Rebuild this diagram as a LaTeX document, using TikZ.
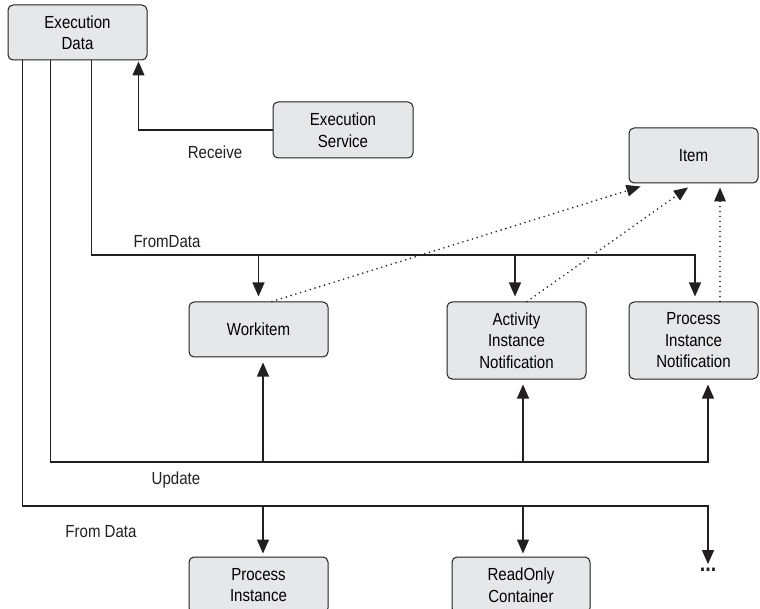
\documentclass[tikz,border=0pt]{standalone}
\usepackage{fontspec}
\setmainfont{Liberation Sans}[FakeStretch=0.86]
\usetikzlibrary{arrows.meta}
\definecolor{boxfill}{HTML}{E6E7E8}
\definecolor{ink}{HTML}{231F20}
\tikzset{
  box/.style={draw=ink, fill=boxfill, rounded corners=5pt, line width=1pt,
    align=center, inner sep=0pt, font=\fontsize{17.5}{21.5}\selectfont},
  lbl/.style={font=\fontsize{17.5}{21.5}\selectfont, text=ink, inner sep=0pt},
  conn/.style={draw=ink, line width=1.2pt},
  arr/.style={conn, -{Triangle[width=12pt,length=14pt]}},
  dotarr/.style={draw=ink, line width=1.8pt, line cap=round, dash pattern=on 0pt off 5pt, -{Triangle[width=12pt,length=14pt,line width=0pt]}},
}
\begin{document}
\begin{tikzpicture}[x=1pt,y=-1pt]
\useasboundingbox (0,0) rectangle (760,609);
\clip (0,0) rectangle (760,609);

% nodes
\node[box, minimum width=139pt, minimum height=55pt] (ED) at (77.5,32.5) {Execution\\Data};
\node[box, minimum width=140pt, minimum height=56pt] (ES) at (343,130) {Execution\\Service};
\node[box, minimum width=129pt, minimum height=55pt] (Item) at (693.5,155.5) {Item};
\node[box, minimum width=139pt, minimum height=55pt] (WI) at (258.5,329.5) {Workitem};
\node[box, minimum width=139pt, minimum height=77pt] (AIN) at (516.5,340.5) {Activity\\Instance\\Notification};
\node[box, minimum width=129pt, minimum height=77pt] (PIN) at (693.5,340.5) {Process\\Instance\\Notification};
\node[box, minimum width=139pt, minimum height=56pt] (PI) at (258.5,585) {Process\\Instance};
\node[box, minimum width=138pt, minimum height=56pt] (RC) at (521,585) {ReadOnly\\Container};
\node[lbl, font=\fontsize{23}{24}\selectfont\bfseries] (dots) at (708,570) {...};

% labels
\node[lbl] (lrec) at (215,152) {Receive};
\node[lbl] (lfd) at (167,242) {FromData};
\node[lbl] (lup) at (176,480) {Update};
\node[lbl] (lfd2) at (101,532) {From Data};

% helper coordinates
\coordinate (fdy) at (0,255);
\coordinate (upy) at (0,462);
\coordinate (fdy2) at (0,506);

% Receive
\draw[arr, shorten >=1pt] (ES.west) -| ([xshift=-9pt]ED.south east);

% FromData (upper)
\draw[arr, shorten >=5pt] ([xshift=84pt]ED.south west) |- ([xshift=1.5pt]PIN.north |- fdy) -- ([xshift=1.5pt]PIN.north);
\draw[arr, shorten >=5pt] (WI.north |- fdy) -- (WI.north);
\draw[arr, shorten >=5pt] ([xshift=-1.5pt]AIN.north |- fdy) -- ([xshift=-1.5pt]AIN.north);

% Update
\draw[arr, shorten >=5pt] ([xshift=43pt]ED.south west) |- ([xshift=14.5pt]PIN.south |- upy) -- ([xshift=14.5pt]PIN.south);
\draw[arr, shorten >=5pt] ([xshift=4.5pt]WI.south |- upy) -- ([xshift=4.5pt]WI.south);
\draw[arr, shorten >=5pt] ([xshift=6.5pt]AIN.south |- upy) -- ([xshift=6.5pt]AIN.south);

% From Data (lower)
\draw[arr, shorten >=4pt] ([xshift=15pt]ED.south west) |- (dots.north |- fdy2) -- (dots.north);
\draw[arr, shorten >=3pt] ([xshift=4.5pt]PI.north |- fdy2) -- ([xshift=4.5pt]PI.north);
\draw[arr, shorten >=3pt] ([xshift=2pt]RC.north |- fdy2) -- ([xshift=2pt]RC.north);

% dotted to Item
\draw[dotarr] ([xshift=13.5pt]WI.north) -- ([xshift=12pt,yshift=-3pt]Item.south west);
\draw[dotarr] ([xshift=10.5pt]AIN.north) -- ([xshift=-5.5pt,yshift=-4pt]Item.south);
\draw[dotarr] ([xshift=26.5pt]PIN.north) -- ([xshift=26.5pt,yshift=-4pt]Item.south);
\end{tikzpicture}
\end{document}
